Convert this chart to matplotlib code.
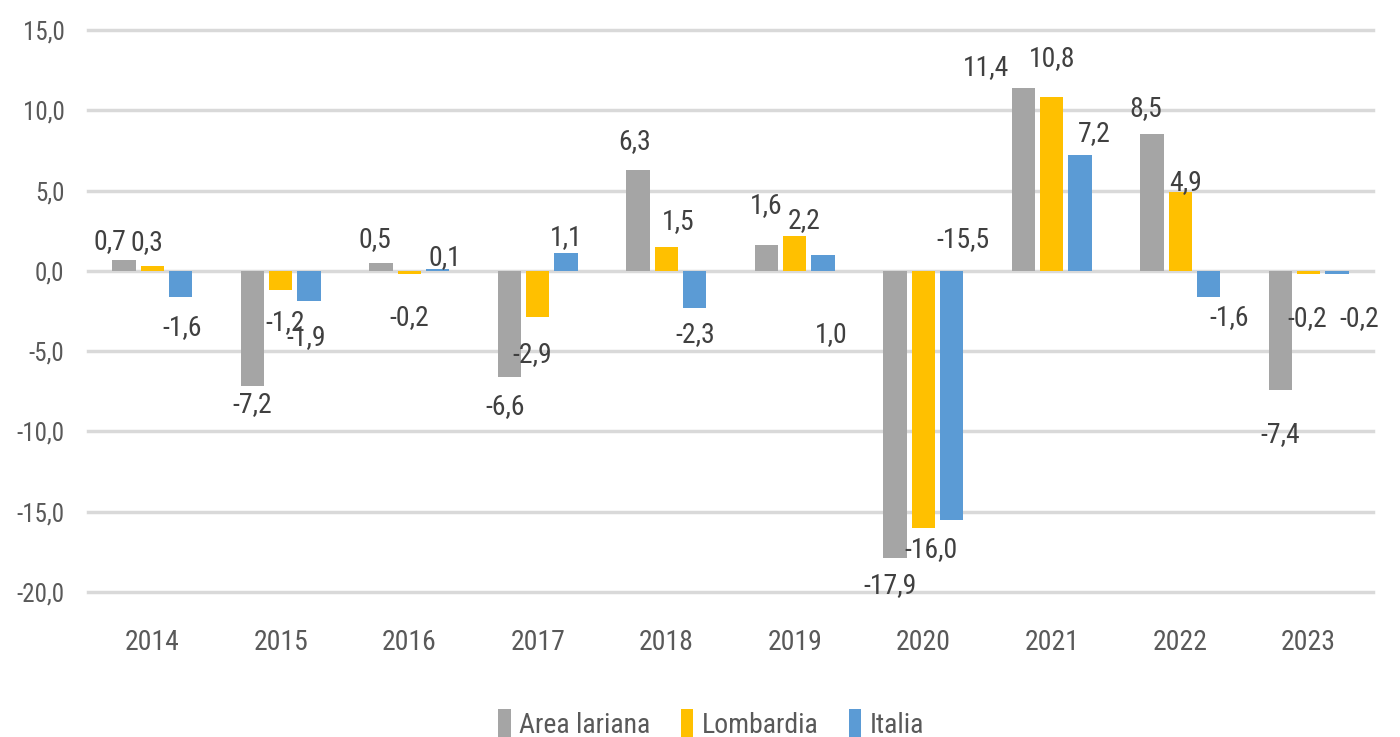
import matplotlib
matplotlib.use('Agg')
import matplotlib.pyplot as plt
import numpy as np

# dati
years = ['2014', '2015', '2016', '2017', '2018', '2019', '2020', '2021', '2022', '2023']
area_lariana = [0.7, -7.2, 0.5, -6.6, 6.3, 1.6, -17.9, 11.4, 8.5, -7.4]
lombardia = [0.3, -1.2, -0.2, -2.9, 1.5, 2.2, -16.0, 10.8, 4.9, -0.2]
italia = [-1.6, -1.9, 0.1, 1.1, -2.3, 1.0, -15.5, 7.2, -1.6, -0.2]
series_names = ['Area lariana', 'Lombardia', 'Italia']
y_ticks = [15, 10, 5, 0, -5, -10, -15, -20]

# colori
c_gray = '#A5A5A5'
c_gold = '#FFC000'
c_blue = '#5B9BD5'
c_grid = '#D9D9D9'
c_text = '#404040'
c_tick = '#595959'

FONT = ['Roboto Condensed', 'Roboto', 'DejaVu Sans']

# spostamenti etichette (dx, dy in pixel rispetto alla fine della barra)
lab_area = [(-14, 18), (0, -18), (-6, 23), (-4, -30), (-3, 28),
            (0, 40), (-5, -27), (-37, 20), (-6, 26), (0, -45)]
lab_lomb = [(-5, 24), (4, -32), (0, -43), (-6, -37), (12, 25),
            (9, 15), (8, -22), (0, 39), (5, 10), (-2, -44)]
lab_ital = [(2, -31), (-3, -36), (7, 12), (0, 16), (1, -27),
            (8, -80), (11, 280), (14, 22), (21, -21), (22, -44)]

fig = plt.figure(figsize=(14, 7.37), dpi=100)
ax = fig.add_axes([88 / 1400, 1 - 592 / 737, (1373 - 88) / 1400, (592 - 30) / 737])

x = np.arange(len(years))
w = 0.18
step = 0.22
all_series = [area_lariana, lombardia, italia]
colors = [c_gray, c_gold, c_blue]
offsets = [lab_area, lab_lomb, lab_ital]

# griglia
for t in y_ticks:
    ax.axhline(t, color=c_grid, lw=2.5, zorder=0, clip_on=False)

for k, (vals, col, offs, name) in enumerate(zip(all_series, colors, offsets, series_names)):
    xs = x + (k - 1) * step
    ax.bar(xs, vals, width=w, color=col, label=name, zorder=2)
    for xi, v, (dx, dy) in zip(xs, vals, offs):
        ax.annotate(f'{v:.1f}'.replace('.', ','), (xi, v), xytext=(dx, dy),
                    textcoords='offset pixels', ha='center', va='center',
                    fontsize=20, color=c_text, family=FONT, zorder=3)

ax.set_xlim(-0.5, len(years) - 0.5)
ax.set_ylim(-20, 15)
ax.set_yticks(y_ticks)
ax.set_yticklabels([f'{t:.1f}'.replace('.', ',') for t in y_ticks],
                   fontsize=18, color=c_tick, family=FONT)
ax.set_xticks(x)
ax.set_xticklabels(years, fontsize=20, color=c_tick, family=FONT)
ax.tick_params(axis='y', length=0, pad=17)
ax.tick_params(axis='x', length=0, pad=27)
for s in ax.spines.values():
    s.set_visible(False)

leg = fig.legend(loc='center', bbox_to_anchor=(0.508, 0.018), ncol=3, frameon=False,
                 prop={'family': FONT, 'size': 20}, handlelength=0.45, handleheight=1.2,
                 handletextpad=0.3, columnspacing=1.1, labelcolor=c_tick)

fig.savefig('out.png', dpi=100, facecolor='white')
